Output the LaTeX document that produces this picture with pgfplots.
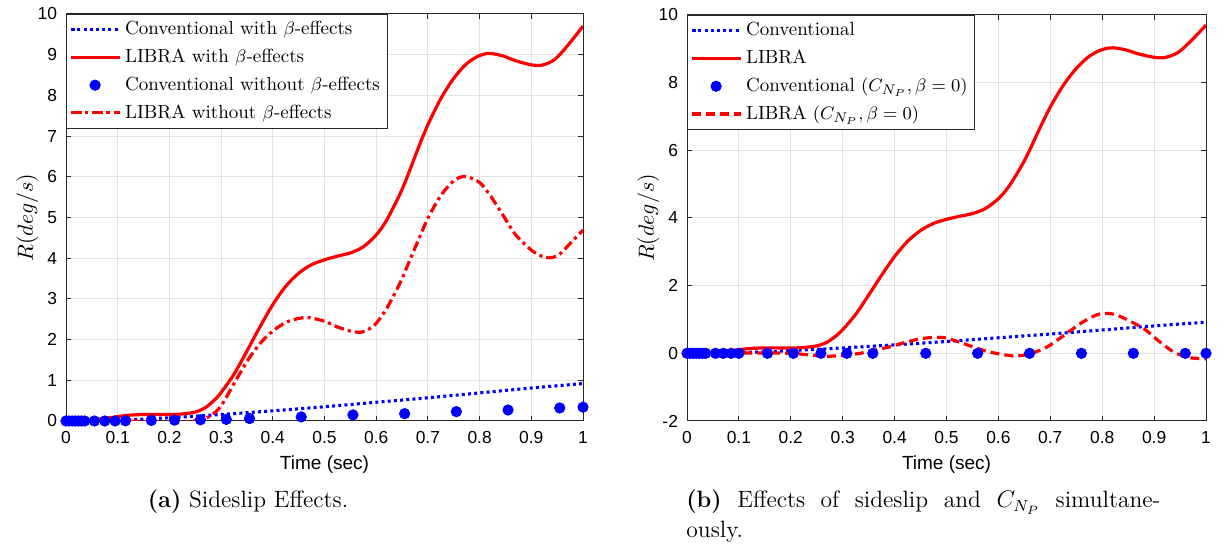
\documentclass[border=0pt]{standalone}
\usepackage{fontspec}
\usepackage{pgfplots}
\pgfplotsset{compat=1.18}
\newfontfamily\arial{Liberation Sans}
\definecolor{gridc}{RGB}{226,226,226}
\definecolor{axc}{RGB}{40,40,40}

\pgfplotstableread{
t R
0 0
0.03 0.01
0.06 0.04
0.09 0.09
0.12 0.14
0.15 0.16
0.18 0.16
0.21 0.16
0.23 0.18
0.25 0.22
0.27 0.33
0.29 0.55
0.30 0.70
0.325 1.15
0.35 1.72
0.375 2.31
0.40 2.86
0.425 3.31
0.45 3.63
0.475 3.84
0.50 3.96
0.525 4.05
0.55 4.13
0.575 4.28
0.60 4.57
0.62 4.93
0.645 5.55
0.66 6.00
0.68 6.66
0.70 7.28
0.725 7.92
0.75 8.42
0.775 8.78
0.80 8.98
0.82 9.03
0.845 8.97
0.87 8.85
0.90 8.75
0.92 8.74
0.945 8.88
0.97 9.22
1.00 9.70
}\libra

\pgfplotstableread{
t R
0 0
0.05 0
0.10 0
0.15 -0.01
0.20 -0.03
0.24 -0.01
0.26 0.03
0.28 0.13
0.30 0.37
0.325 0.92
0.35 1.46
0.375 1.90
0.40 2.21
0.425 2.42
0.45 2.52
0.47 2.54
0.50 2.45
0.525 2.31
0.55 2.21
0.57 2.18
0.585 2.25
0.60 2.40
0.62 2.76
0.645 3.36
0.66 3.80
0.68 4.40
0.70 4.98
0.725 5.54
0.75 5.90
0.772 6.01
0.80 5.86
0.82 5.55
0.845 5.06
0.87 4.57
0.90 4.20
0.92 4.05
0.937 4.01
0.955 4.10
0.975 4.36
1.00 4.69
}\libranob

\pgfplotstableread{
t R
0 0
0.05 0
0.10 0.01
0.15 0.01
0.20 0
0.25 -0.07
0.27 -0.09
0.30 -0.06
0.325 -0.02
0.35 0.05
0.39 0.19
0.42 0.32
0.45 0.43
0.478 0.47
0.50 0.45
0.54 0.25
0.577 0.06
0.61 -0.04
0.633 -0.08
0.66 -0.02
0.694 0.19
0.727 0.54
0.76 0.90
0.79 1.14
0.811 1.18
0.83 1.12
0.86 0.90
0.883 0.70
0.91 0.35
0.94 0.02
0.97 -0.13
1.00 -0.16
}\libracnp

\pgfplotstableread{
t R
0 0
0.1 0.02
0.2 0.08
0.3 0.16
0.4 0.25
0.5 0.35
0.6 0.46
0.7 0.57
0.8 0.69
0.9 0.81
1.0 0.92
}\conv

\pgfplotstableread{
t R
0 0
0.006 0
0.012 0
0.018 0
0.024 0
0.030 0
0.036 0
0.055 0
0.075 0
0.095 0
0.115 0.005
0.165 0.015
0.21 0.02
0.26 0.03
0.31 0.04
0.355 0.06
0.455 0.10
0.555 0.15
0.655 0.18
0.755 0.23
0.855 0.27
0.955 0.32
1.0 0.34
}\convnob

\pgfplotstableread{
t R
0 0
0.006 0
0.012 0
0.018 0
0.024 0
0.030 0
0.036 0
0.055 0
0.07 0
0.085 0
0.10 0
0.155 0
0.205 0
0.258 0
0.308 0
0.358 0
0.46 0
0.56 0
0.66 0
0.76 0
0.86 0
0.96 0
1.0 0
}\convcnp

\pgfplotsset{
  mystyle/.style={
    scale only axis, xmin=0, xmax=1,
    xtick={0,0.1,0.2,0.3,0.4,0.5,0.6,0.7,0.8,0.9,1},
    xticklabels={0,0.1,0.2,0.3,0.4,0.5,0.6,0.7,0.8,0.9,1},
    grid=major, major grid style={draw=gridc, line width=0.5pt},
    tick align=inside, major tick length=2.5pt,
    axis line style={draw=axc, line width=0.5pt},
    tick style={draw=axc, line width=0.5pt},
    ticklabel style={font=\fontsize{8.7}{10}\selectfont\arial},
    xticklabel style={yshift=-1.5pt},
    yticklabel style={xshift=-1pt},
    xlabel={Time (sec)},
    xlabel style={font=\fontsize{9.5}{11}\selectfont\arial, at={(axis description cs:0.5,-0.108)}, anchor=center},
    ylabel={$R(deg/s)$},
    ylabel style={font=\fontsize{10.5}{12}\selectfont, at={(axis description cs:-0.0745,0.5)}, anchor=center},
    legend style={at={(0,1)}, anchor=north west, draw=axc, fill=white,
      font=\fontsize{9.5}{11}\selectfont, inner sep=1.6pt, row sep=1.6pt},
    legend cell align=left,
    legend image code/.code={\draw[mark repeat=2,mark phase=2,#1] plot coordinates {(0cm,0cm) (0.42cm,0cm) (0.85cm,0cm)};},
  },
  dotstyle/.style={color=blue, line width=1.55pt, dash pattern=on 1.5pt off 1.6pt},
  solidstyle/.style={color=red, line width=1.6pt},
  markstyle/.style={only marks, mark=*, mark size=2.6pt, color=blue, mark options={fill=blue, draw=blue}},
  dashdotstyle/.style={color=red, line width=1.6pt, dash pattern=on 5pt off 2pt on 1.6pt off 2pt},
  dashstyle/.style={color=red, line width=1.6pt, dash pattern=on 4.5pt off 2.5pt},
}

\begin{document}
\begin{tikzpicture}
\useasboundingbox (0,0) rectangle (613pt,272pt);

\begin{axis}[mystyle, at={(33pt,61.5pt)}, anchor=south west,
  width=258.5pt, height=203.5pt, ymin=0, ymax=10,
  ytick={0,1,2,3,4,5,6,7,8,9,10},
  yticklabels={0,1,2,3,4,5,6,7,8,9,10}]
\addplot[dotstyle, smooth] table[x=t,y=R] {\conv};
\addlegendentry{Conventional with $\beta$-effects}
\addplot[solidstyle, smooth] table[x=t,y=R] {\libra};
\addlegendentry{LIBRA with $\beta$-effects}
\addplot[markstyle] table[x=t,y=R] {\convnob};
\addlegendentry{Conventional without $\beta$-effects}
\addplot[dashdotstyle, smooth] table[x=t,y=R] {\libranob};
\addlegendentry{LIBRA without $\beta$-effects}
\end{axis}

\begin{axis}[mystyle, at={(343.5pt,61.5pt)}, anchor=south west,
  width=259.5pt, height=203pt, ymin=-2, ymax=10,
  ytick={-2,0,2,4,6,8,10},
  yticklabels={-2,0,2,4,6,8,10}]
\addplot[dotstyle, smooth] table[x=t,y=R] {\conv};
\addlegendentry{Conventional}
\addplot[solidstyle, smooth] table[x=t,y=R] {\libra};
\addlegendentry{LIBRA}
\addplot[markstyle] table[x=t,y=R] {\convcnp};
\addlegendentry{Conventional $(C_{N_P},\beta=0)$}
\addplot[dashstyle, smooth] table[x=t,y=R] {\libracnp};
\addlegendentry{LIBRA $(C_{N_P},\beta=0)$}
\end{axis}

\node[anchor=base, font=\fontsize{11.8}{14}\selectfont] at (124pt,18pt) {\textbf{(a)} Sideslip Effects.};
\node[anchor=base west, inner sep=0pt, font=\fontsize{11.8}{14}\selectfont] at (343pt,18pt) {\makebox[237pt][s]{\textbf{(b)} Effects of sideslip and $C_{N_P}$ simultane-}};
\node[anchor=base west, inner sep=0pt, font=\fontsize{11.8}{14}\selectfont] at (343pt,3pt) {ously.};
\end{tikzpicture}
\end{document}
